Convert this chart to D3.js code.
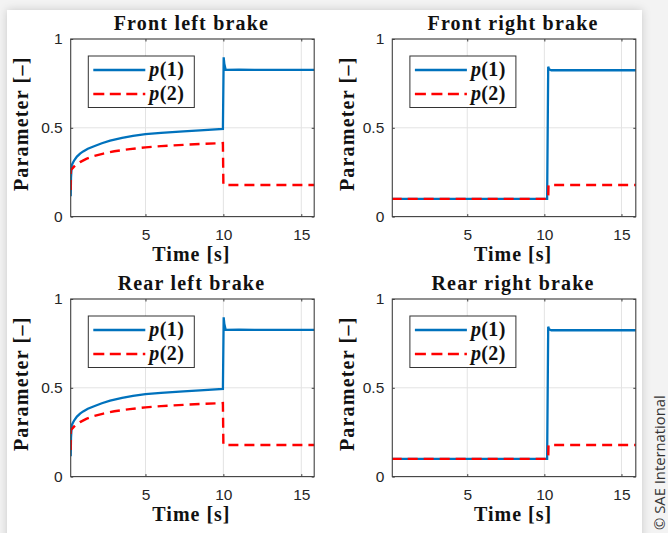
<!DOCTYPE html>
<html>
<head>
<meta charset="utf-8">
<script src="https://cdn.jsdelivr.net/npm/d3@7.9.0/dist/d3.min.js"></script>
<style>
  html, body { margin: 0; padding: 0; background: #f3f3f3; }
  svg { display: block; }
  .tick text { font-family: "Liberation Sans", Arial, sans-serif; font-size: 15.5px; fill: #262626; }
</style>
</head>
<body>
<svg id="chart" width="668" height="533"></svg>
<script>
/* ------------------------------- data ------------------------------- */
const panelTitles = ["Front left brake", "Front right brake", "Rear left brake", "Rear right brake"];
const seriesLabels = ["1", "2"]; // p(1), p(2)
const xTicks = [5, 10, 15];
const yTicks = [0, 0.5, 1];
const yTickLabels = ["0", "0.5", "1"];

// left brakes (front + rear look the same)
const leftTimeP1 = [0.2, 0.22, 0.27, 0.35, 0.45, 0.6, 0.8, 1.0, 1.3, 1.66, 2.2, 2.73, 3.5, 4.2, 5, 6, 7.44, 8.5, 9.97, 10.02, 10.06, 10.15, 11, 12, 13, 14, 15, 15.9];
const leftP1 = [0.114, 0.22, 0.29, 0.305, 0.32, 0.338, 0.355, 0.367, 0.382, 0.395, 0.413, 0.428, 0.443, 0.454, 0.464, 0.472, 0.48, 0.486, 0.494, 0.897, 0.86, 0.826, 0.827, 0.826, 0.826, 0.826, 0.826, 0.826];
const leftTimeP2 = [0.2, 0.21, 0.3, 0.5, 0.8, 1.2, 1.66, 2.3, 3.0, 4.0, 5, 6, 7.44, 8.5, 9.97, 10.0, 10.1, 15.9];
const leftP2 = [0.15, 0.264, 0.27, 0.29, 0.307, 0.325, 0.34, 0.355, 0.368, 0.38, 0.39, 0.397, 0.404, 0.409, 0.414, 0.18, 0.178, 0.178];

// right brakes
const rightTimeP1 = [0.1, 10.18, 10.25, 10.3, 10.45, 15.95];
const rightP1 = [0.1, 0.1, 0.844, 0.83, 0.824, 0.824];
const rightTimeP2 = [0.1, 10.25, 10.27, 15.95];
const rightP2 = [0.1, 0.1, 0.178, 0.178];

const leftXDomain = [0.2, 15.83];
const rightXDomain = [0.14, 15.93];

/* ------------------------------ layout ------------------------------ */
const colLeft = [70.7, 392.3];
const rowTop = [39, 299];
const plotW = 243.5, plotH = 177.6;
const yLabelX = [28, 354];

const blue = "#0072BD", red = "#FF0000";
const serif = "'Liberation Serif', 'Times New Roman', serif";

const svg = d3.select("#chart");

// card with shadow
const defs = svg.append("defs");
const shadow = defs.append("filter").attr("id", "shadow")
  .attr("x", "-10%").attr("y", "-10%").attr("width", "120%").attr("height", "120%");
shadow.append("feDropShadow").attr("dx", 0).attr("dy", 0).attr("stdDeviation", 4)
  .attr("flood-color", "#000").attr("flood-opacity", 0.18);

svg.append("rect").attr("width", 668).attr("height", 533).attr("fill", "#f3f3f3");
svg.append("rect").attr("x", 7).attr("y", 10).attr("width", 635).attr("height", 540)
  .attr("fill", "#fff").attr("filter", "url(#shadow)");

svg.append("text")
  .attr("transform", "translate(665,530) rotate(-90)")
  .attr("font-family", "'Open Sans', 'Noto Sans', sans-serif")
  .attr("font-size", 14.8).attr("fill", "#333")
  .text("© SAE International");

const panels = [
  { title: panelTitles[0], col: 0, row: 0, dom: leftXDomain, s1: [leftTimeP1, leftP1], s2: [leftTimeP2, leftP2] },
  { title: panelTitles[1], col: 1, row: 0, dom: rightXDomain, s1: [rightTimeP1, rightP1], s2: [rightTimeP2, rightP2] },
  { title: panelTitles[2], col: 0, row: 1, dom: leftXDomain, s1: [leftTimeP1, leftP1], s2: [leftTimeP2, leftP2] },
  { title: panelTitles[3], col: 1, row: 1, dom: rightXDomain, s1: [rightTimeP1, rightP1], s2: [rightTimeP2, rightP2] },
];

panels.forEach((p, i) => {
  const left = colLeft[p.col], top = rowTop[p.row];
  const x = d3.scaleLinear().domain(p.dom).range([0, plotW]);
  const y = d3.scaleLinear().domain([0, 1]).range([plotH, 0]);
  const g = svg.append("g").attr("transform", `translate(${left},${top})`);

  defs.append("clipPath").attr("id", "clip" + i)
    .append("rect").attr("width", plotW).attr("height", plotH);

  // grid
  g.append("g").selectAll("line").data(xTicks).join("line")
    .attr("x1", d => x(d)).attr("x2", d => x(d)).attr("y1", 0).attr("y2", plotH)
    .attr("stroke", "#e3e3e3").attr("stroke-width", 1);
  g.append("g").selectAll("line").data(yTicks).join("line")
    .attr("x1", 0).attr("x2", plotW).attr("y1", d => y(d)).attr("y2", d => y(d))
    .attr("stroke", "#e3e3e3").attr("stroke-width", 1);

  // lines
  const line = d3.line().x(d => x(d[0])).y(d => y(d[1]));
  const plot = g.append("g").attr("clip-path", `url(#clip${i})`);
  plot.append("path").datum(d3.zip(...p.s1)).attr("d", line)
    .attr("fill", "none").attr("stroke", blue).attr("stroke-width", 2.3);
  plot.append("path").datum(d3.zip(...p.s2)).attr("d", line)
    .attr("fill", "none").attr("stroke", red).attr("stroke-width", 2.4)
    .attr("stroke-dasharray", "10,6");

  // axes (ticks inside, box on)
  g.append("g").attr("transform", `translate(0,${plotH})`)
    .call(d3.axisBottom(x).tickValues(xTicks).tickSizeInner(-2.5).tickSizeOuter(0).tickPadding(12));
  g.append("g")
    .call(d3.axisLeft(y).tickValues(yTicks).tickFormat((d, k) => yTickLabels[k])
      .tickSizeInner(-2.5).tickSizeOuter(0).tickPadding(8));
  g.append("g").call(d3.axisTop(x).tickValues(xTicks).tickSizeInner(-2.5).tickSizeOuter(0).tickFormat(""));
  g.append("g").attr("transform", `translate(${plotW},0)`)
    .call(d3.axisRight(y).tickValues(yTicks).tickSizeInner(-2.5).tickSizeOuter(0).tickFormat(""));
  g.selectAll(".domain").remove();
  g.selectAll(".tick line").attr("stroke", "#404040");
  g.append("rect").attr("width", plotW).attr("height", plotH)
    .attr("fill", "none").attr("stroke", "#404040").attr("stroke-width", 1.1);

  // title + axis labels
  g.append("text").attr("x", plotW / 2 - 1).attr("y", -9.5).attr("text-anchor", "middle")
    .attr("font-family", serif).attr("font-weight", "bold")
    .attr("font-size", 20).attr("letter-spacing", 1.2).attr("fill", "#111").text(p.title);
  g.append("text").attr("x", plotW / 2 - 1).attr("y", plotH + 44.5).attr("text-anchor", "middle")
    .attr("font-family", serif).attr("font-weight", "bold")
    .attr("font-size", 20).attr("letter-spacing", 1).attr("fill", "#111").text("Time [s]");
  svg.append("text")
    .attr("transform", `translate(${yLabelX[p.col]},${top + plotH / 2 - 4}) rotate(-90)`)
    .attr("text-anchor", "middle")
    .attr("font-family", serif).attr("font-weight", "bold")
    .attr("font-size", 20).attr("letter-spacing", 1.2).attr("fill", "#111").text("Parameter [–]");

  // legend
  const lg = g.append("g").attr("transform", "translate(17.6,17)");
  lg.append("rect").attr("width", 106).attr("height", 51.5)
    .attr("fill", "#fff").attr("stroke", "#333").attr("stroke-width", 1);
  seriesLabels.forEach((lab, k) => {
    const ly = 14 + k * 24;
    lg.append("line").attr("x1", 5).attr("x2", 57).attr("y1", ly).attr("y2", ly)
      .attr("stroke", k === 0 ? blue : red).attr("stroke-width", k === 0 ? 2.3 : 2.4)
      .attr("stroke-dasharray", k === 0 ? null : "11,5.5");
    const t = lg.append("text").attr("x", 61).attr("y", ly + 6)
      .attr("font-family", serif).attr("font-weight", "bold")
      .attr("font-size", 20).attr("letter-spacing", 0.4).attr("fill", "#111");
    t.append("tspan").attr("font-style", "italic").text("p");
    t.append("tspan").text(`(${lab})`);
  });
});
</script>
</body>
</html>
